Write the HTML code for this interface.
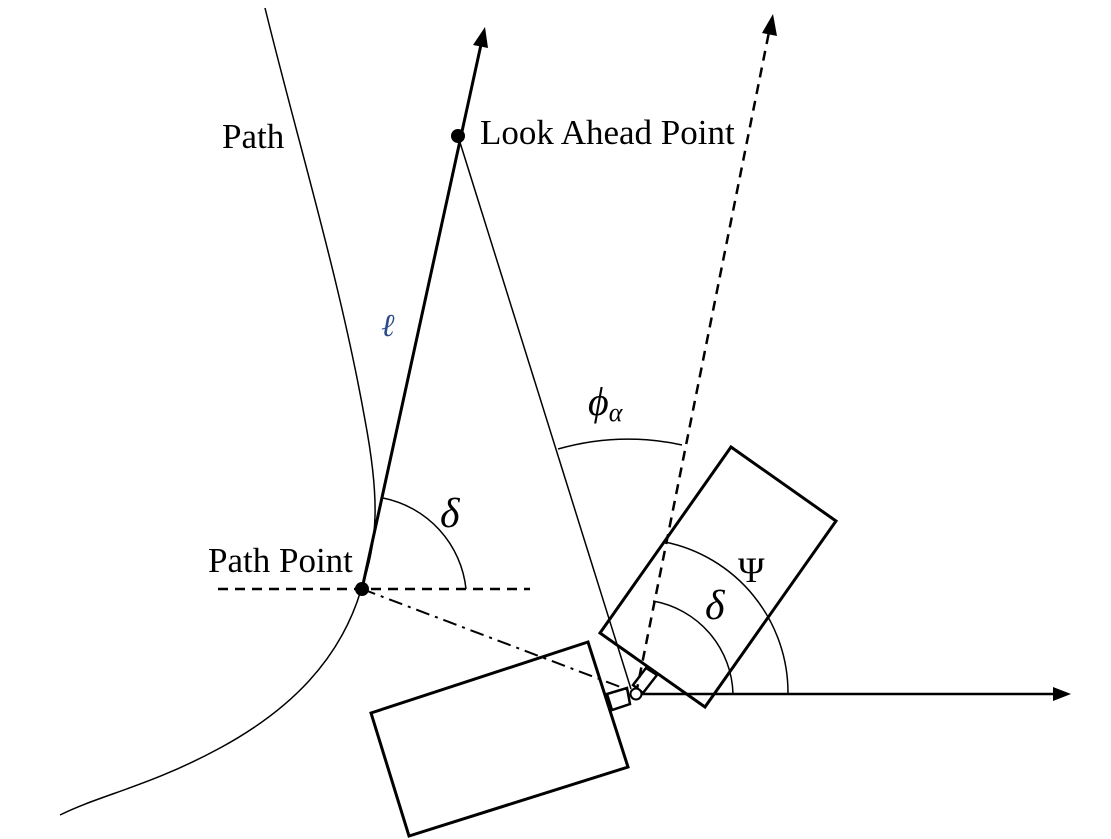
<!DOCTYPE html>
<html><head><meta charset="utf-8"><style>
html,body{margin:0;padding:0;background:#fff;}
svg{display:block;}
text{font-family:"Liberation Serif",serif;fill:#000;}
</style></head><body>
<svg width="1111" height="839" viewBox="0 0 1111 839" xmlns="http://www.w3.org/2000/svg">
<g fill="none" stroke="#000">
<path d="M265,8 C300,150 340,280 365,420 C380,500 378,540 361,590 C340,660 290,710 220,748 S100,795 60,815" stroke-width="1.5"/>
<line x1="362" y1="589" x2="482" y2="40" stroke-width="3"/>
<path d="M485,27 L473,45 L488,48 z" fill="#000" stroke="none"/>
<line x1="458" y1="136" x2="631" y2="689" stroke-width="1.5"/>
<line x1="636" y1="694" x2="769" y2="32" stroke-width="2.5" stroke-dasharray="10,7"/>
<path d="M773,14 L762,33 L777,36 z" fill="#000" stroke="none"/>
<line x1="218" y1="589" x2="530" y2="589" stroke-width="2.5" stroke-dasharray="10,7"/>
<line x1="362" y1="589" x2="631" y2="691" stroke-width="2" stroke-dasharray="14,6,3,6"/>
<line x1="640" y1="694" x2="1058" y2="694" stroke-width="2.5"/>
<path d="M1071,694 L1053,687 L1053,701 z" fill="#000" stroke="none"/>
<path d="M383,498 A104,104 0 0 1 466,589" stroke-width="1.5"/>
<path d="M558,449 A254,254 0 0 1 682,445" stroke-width="1.5"/>
<path d="M653,601 A97,97 0 0 1 733,694" stroke-width="1.5"/>
<path d="M665,542 A154,154 0 0 1 788,694" stroke-width="1.5"/>
<polygon points="731,447 836,521 705,707 600,633" stroke-width="3"/>
<polygon points="371,713 588,642 628,767 409,836" stroke-width="3"/>
<polygon points="607,694 612,710 630,704 627,688" stroke-width="2.5"/>
<polygon points="633,685 646,668 657,675 643,693" stroke-width="2.5"/>
<circle cx="636" cy="694" r="5.5" stroke-width="2" fill="#fff"/>
</g>
<circle cx="458" cy="136" r="7" fill="#000"/>
<circle cx="362" cy="589" r="7" fill="#000"/>
<text x="222" y="148" font-size="35">Path</text>
<text x="480" y="144" font-size="35">Look Ahead Point</text>
<text x="208" y="572" font-size="35">Path Point</text>
<text x="381" y="336" font-size="32" font-style="italic" style="fill:#2a4a8a">ℓ</text>
<text x="588" y="415" font-size="40" font-style="italic">ϕ<tspan font-size="26" dy="6">α</tspan></text>
<text x="440" y="527" font-size="42" font-style="italic">δ</text>
<text x="738" y="582" font-size="36">Ψ</text>
<text x="705" y="619" font-size="42" font-style="italic">δ</text>
</svg>
</body></html>
